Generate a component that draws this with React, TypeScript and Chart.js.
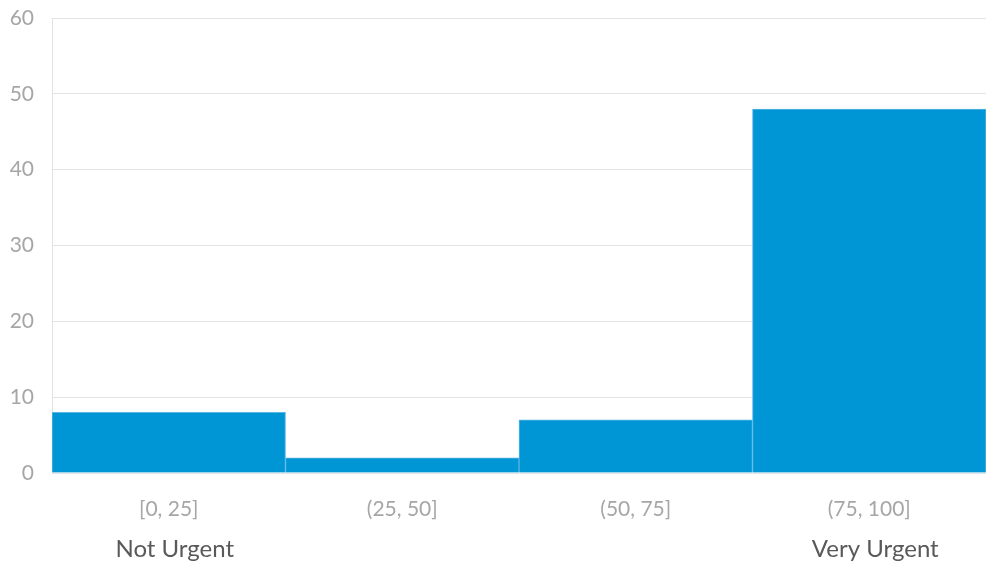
import React, { useEffect, useRef } from "react";
import { Chart, registerables } from "chart.js";

Chart.register(...registerables);

const categories = ["[0, 25]", "(25, 50]", "(50, 75]", "(75, 100]"];
const counts = [8, 2, 7, 48];
const yTicks = [0, 10, 20, 30, 40, 50, 60];
const notes = ["Not Urgent", "", "", "Very Urgent"];

const FONT = "Lato, 'Open Sans', sans-serif";

const notePlugin = {
  id: "notes",
  afterDraw(chart: any) {
    const { ctx } = chart;
    const x = chart.scales.x;
    ctx.save();
    ctx.font = `24px ${FONT}`;
    ctx.fillStyle = "#595959";
    ctx.textAlign = "center";
    ctx.textBaseline = "middle";
    notes.forEach((n, i) => {
      if (!n) return;
      ctx.fillText(n, x.getPixelForValue(i) + 6, 549);
    });
    ctx.restore();
  },
};

export default function App() {
  const ref = useRef<HTMLCanvasElement>(null);
  useEffect(() => {
    if (!ref.current) return;
    const chart = new Chart(ref.current, {
      type: "bar",
      data: {
        labels: categories,
        datasets: [
          {
            data: counts,
            backgroundColor: "#0096D6",
            borderColor: "#56B6E4",
            borderWidth: 1,
            barPercentage: 1,
            categoryPercentage: 1,
          },
        ],
      },
      options: {
        animation: false,
        responsive: false,
        maintainAspectRatio: false,
        layout: { padding: { top: 18, right: 0, left: 0, bottom: 0 } },
        plugins: { legend: { display: false }, tooltip: { enabled: false } },
        scales: {
          x: {
            grid: { display: false, drawTicks: false },
            border: { display: false },
            ticks: {
              color: "#A6A6A6",
              font: { family: FONT, size: 21 },
              padding: 24,
              maxRotation: 0,
            },
            afterFit(scale: any) {
              scale.height = 88;
              scale.paddingLeft = 0;
              scale.paddingRight = 0;
            },
          },
          y: {
            min: 0,
            max: 60,
            grid: { color: "#E3E3E3", lineWidth: 1, drawTicks: false },
            border: { display: true, color: "#E3E3E3" },
            afterBuildTicks(scale: any) {
              scale.ticks = yTicks.map((v) => ({ value: v }));
            },
            ticks: {
              color: "#A6A6A6",
              font: { family: FONT, size: 21 },
              padding: 18,
            },
            afterFit(scale: any) {
              scale.width = 52;
              scale.paddingTop = 0;
              scale.paddingBottom = 0;
            },
          },
        },
      },
      plugins: [notePlugin],
    });
    return () => chart.destroy();
  }, []);
  return (
    <div style={{ position: "fixed", left: 0, top: 0, width: 986, height: 561, background: "#fff" }}>
      <canvas ref={ref} width={986} height={561} style={{ width: 986, height: 561 }} />
    </div>
  );
}
